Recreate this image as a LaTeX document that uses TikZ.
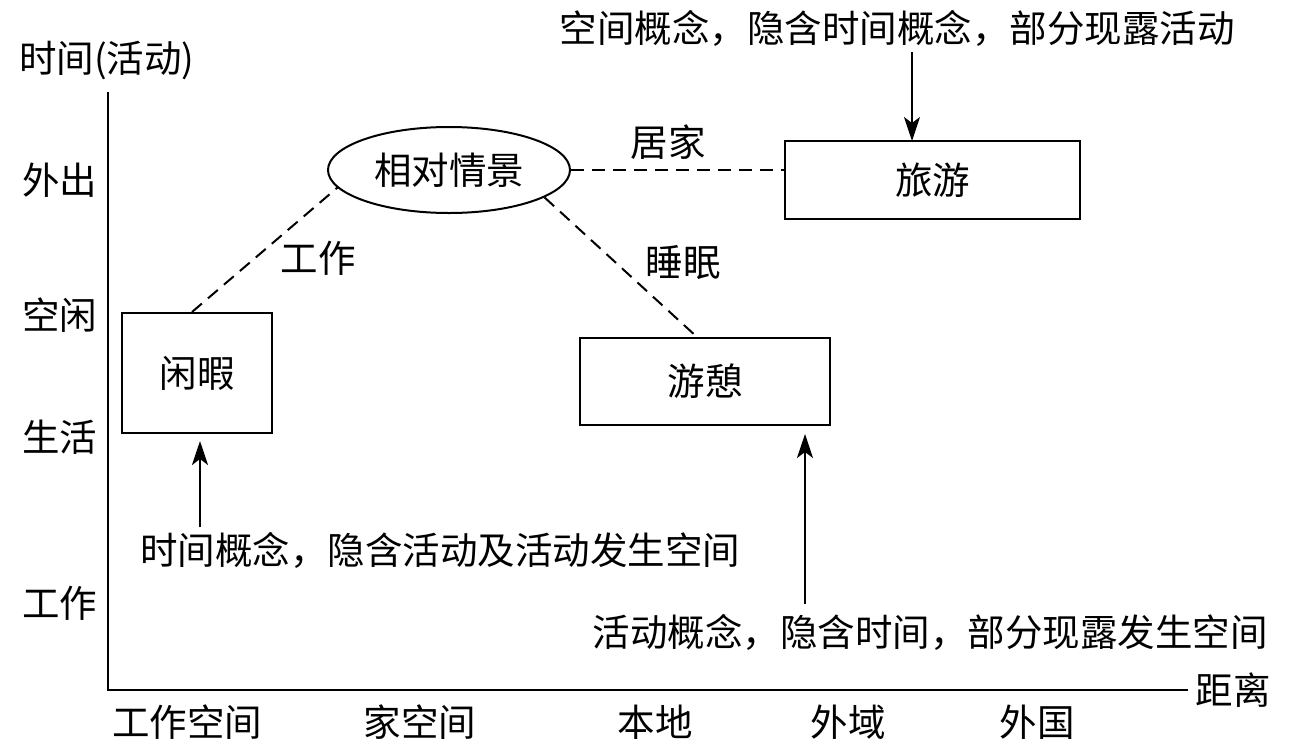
\documentclass[tikz,border=0pt]{standalone}
\usepackage{fontspec}
\newfontfamily\cjk{Noto Sans CJK SC}
\usetikzlibrary{shapes.geometric,arrows.meta}
\begin{document}
\begin{tikzpicture}[x=1pt,y=-1pt,
  every node/.style={font=\cjk\fontsize{37.5}{40}\selectfont, inner sep=0pt},
  conn/.style={line width=2pt, dash pattern=on 13pt off 8pt},
  arr/.style={line width=2pt, -{Stealth[length=24pt,width=16pt,inset=6pt]}},
  axis/.style={line width=2.2pt}]
\useasboundingbox (0,0) rectangle (1299,753);
% axes
\coordinate (o) at (108,690);
\coordinate (ytop) at (108,92);
\coordinate (xend) at (1188,690);
\draw[axis] (ytop) -- (o) -- (xend);
\node (ylab) at (107,60) {时间(活动)};
\node (xlab) at (1233,690) {距离};
% y labels
\node (y1) at (60,180) {外出};
\node (y2) at (60,315) {空闲};
\node (y3) at (60,437) {生活};
\node (y4) at (60,603) {工作};
% x labels
\node (x1) at (187,722) {工作空间};
\node (x2) at (420,722) {家空间};
\node (x3) at (655,722) {本地};
\node (x4) at (848,722) {外域};
\node (x5) at (1037,722) {外国};
% shapes
\node[draw, line width=2pt, minimum width=150pt, minimum height=120pt] (xianxia) at (197,373) {闲暇};
\node[draw, line width=2pt, minimum width=250pt, minimum height=87pt] (youqi) at (705,381.5) {游憩};
\node[draw, line width=2pt, minimum width=295pt, minimum height=78pt] (lvyou) at (932.5,180) {旅游};
\node[draw, ellipse, line width=2pt, minimum width=242pt, minimum height=86pt] (xiangdui) at (449,170) {相对情景};
% dashed links
\coordinate (a1) at ([xshift=-5pt]xianxia.north);
\coordinate (a3) at ([xshift=-8pt]youqi.north);
\draw[conn] (a1) -- (xiangdui.-171);
\draw[conn] (xiangdui.east) -- (lvyou.west |- xiangdui.east);
\draw[conn] (xiangdui.-16) -- (a3);
\node (l1) at (318,258) {工作};
\node (l2) at (668,142) {居家};
\node (l3) at (683,263) {睡眠};
% annotation texts
\node (t1) at (897,28) {空间概念，隐含时间概念，部分现露活动};
\node (t2) at (440,550) {时间概念，隐含活动及活动发生空间};
\node (t3) at (930,632) {活动概念，隐含时间，部分现露发生空间};
% arrows
\coordinate (s1) at (912,52);
\coordinate (s2) at (200,527);
\coordinate (s3) at (805,604);
\coordinate (e1) at (912,141);
\coordinate (e2) at (200,441);
\coordinate (e3) at (805,434);
\draw[arr] (s1) -- (e1);
\draw[arr] (s2) -- (e2);
\draw[arr] (s3) -- (e3);
\end{tikzpicture}
\end{document}
